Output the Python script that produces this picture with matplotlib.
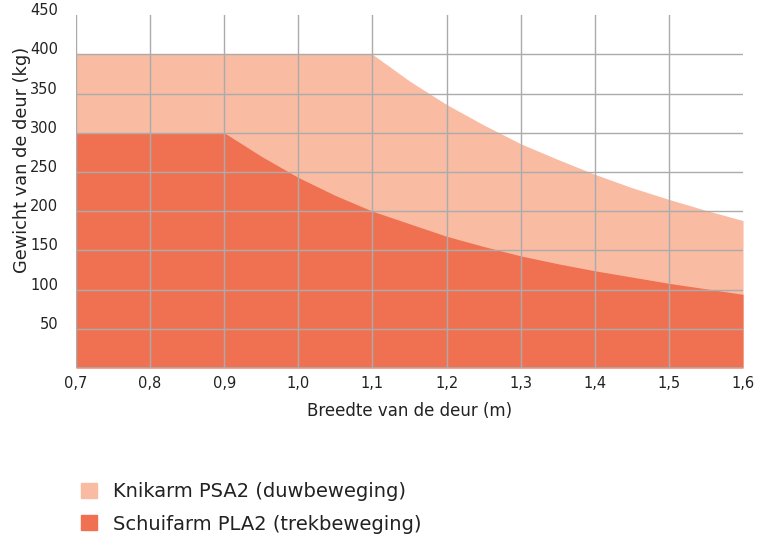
import matplotlib.pyplot as plt
from matplotlib.patches import Patch

# door width (m) and max door weight (kg)
width = [0.70, 0.80, 0.90, 0.95, 1.00, 1.05, 1.10, 1.15, 1.20, 1.25, 1.30, 1.35, 1.40, 1.45, 1.50, 1.55, 1.60]
knikarm = [400, 400, 400, 400, 400, 400, 400, 366, 336, 310, 286, 266, 247, 230, 215, 201, 188]
schuifarm = [300, 300, 300, 270, 243, 220, 200, 184, 168, 155, 143, 133, 124, 116, 108, 101, 94]

labels = ["Knikarm PSA2 (duwbeweging)", "Schuifarm PLA2 (trekbeweging)"]
x_ticks = [0.7, 0.8, 0.9, 1.0, 1.1, 1.2, 1.3, 1.4, 1.5, 1.6]
y_ticks = [50, 100, 150, 200, 250, 300, 350, 400, 450]

light = "#F9BCA3"
dark = "#F07152"
grid = "#ABABAB"

fig = plt.figure(figsize=(7.7, 5.4), dpi=100)
ax = fig.add_axes([0.0987, 0.3185, 0.8663, 0.6535])

ax.fill_between(width, 0, knikarm, color=light, lw=0, zorder=1)
ax.fill_between(width, 0, schuifarm, color=dark, lw=0, zorder=2)

# grid on top of the fills
for x in x_ticks[:-1]:
  ax.plot([x, x], [0, 450], color=grid, lw=1, zorder=3)
for y in y_ticks[:-1]:
  ax.plot([0.7, 1.6], [y, y], color=grid, lw=1, zorder=3)
ax.plot([0.7, 1.6], [0, 0], color=grid, lw=1.2, zorder=3)

ax.set_xlim(0.7, 1.6)
ax.set_ylim(0, 450)
for s in ax.spines.values():
  s.set_visible(False)

ax.set_xticks(x_ticks)
ax.set_xticklabels([("%.1f" % v).replace(".", ",") for v in x_ticks], fontsize=10.5, color="#222222")
ax.set_yticks(y_ticks)
ax.set_yticklabels([str(v) for v in y_ticks], fontsize=10.5, color="#222222", va="baseline")
ax.tick_params(length=0, pad=6)
ax.tick_params(axis="y", pad=13)

ax.set_xlabel("Breedte van de deur (m)", fontsize=12, color="#222222", labelpad=8)
ax.set_ylabel("Gewicht van de deur (kg)", fontsize=12.8, color="#222222")
ax.yaxis.set_label_coords(-0.068, 0.59)

handles = [Patch(color=light), Patch(color=dark)]
fig.legend(handles, labels, loc="upper left", bbox_to_anchor=(0.083, 0.14),
           frameon=False, fontsize=14, handlelength=0.8, handleheight=0.8,
           handletextpad=0.8, labelspacing=0.7, labelcolor="#222222")

fig.savefig("out.png", dpi=100)
